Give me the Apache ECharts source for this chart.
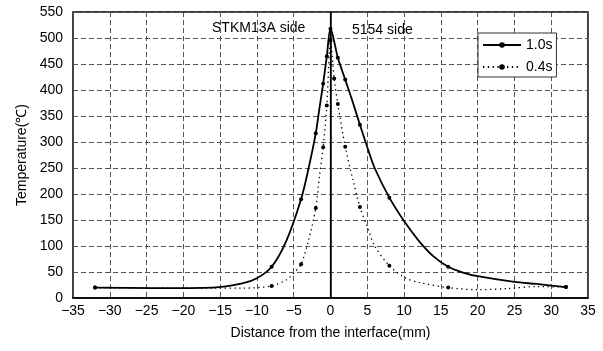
<!DOCTYPE html>
<html><head><meta charset="utf-8">
<script src="https://cdn.jsdelivr.net/npm/echarts@6/dist/echarts.min.js"></script>
<style>html,body{margin:0;padding:0;background:#fff}#c{width:603px;height:351px}</style>
</head><body><div id="c"></div>
<script>
// Distance (mm) and temperature (°C) readings
const xSolid = [-32,-24,-16,-12,-10,-8,-6,-4,-3,-2,-1.5,-1,-0.5,0,1,2,3,4,5,6,8,10,12,14,16,18,20,25,28,32];
const ySolid = [20,19,20,28,38,60,110,190,248,317,365,412,465,518,462,420,378,333,290,250,193,148,110,80,60,49,42,31,27,21];
const markSolid = [-32,-8,-4,-2,-1,-0.5,0,1,2,4,8,16,32];

const xDot = [-32,-24,-16,-12,-8,-6,-5,-4,-3,-2,-1.5,-1,-0.5,0,0.5,1,2,3,4,5,6,8,10,12,16,20,24,28,32];
const yDot = [20,19,19,19,23,35,48,65,110,173,235,290,370,495,422,373,291,230,175,137,100,62,40,30,20,16,18,22,21];
const markDot = [-32,-8,-4,-2,-1,-0.5,0,0.5,1,2,4,8,16,32];

const seriesNames = ['1.0s','0.4s'];
const xTicks = {min:-35,max:35,interval:5};
const yTicks = {min:0,max:550,interval:50};
const xTitle = 'Distance from the interface(mm)';
const yTitle = 'Temperature(℃)';
const notes = ['STKM13A side','5154 side'];

const FONT = 'Liberation Sans';
const chart = echarts.init(document.getElementById('c'));
const pair = (xs, ys) => xs.map((x,i)=>[x, ys[i]]);
const symFn = marks => (v) => marks.includes(v[0]) ? 4 : 0;
const fmt = v => String(v).replace('-', '\u2212');

chart.setOption({
  animation:false,
  textStyle:{fontFamily:FONT},
  grid:{left:73,right:15,top:12,bottom:53,show:true,borderColor:'#000',borderWidth:1.5},
  legend:{
    orient:'vertical', left:478, top:33, padding:[5,4,3,4], itemGap:8,
    borderColor:'#333', borderWidth:1, backgroundColor:'#fff',
    itemWidth:38, itemHeight:7,
    textStyle:{fontFamily:FONT,fontSize:14,color:'#000'},
    data:seriesNames
  },
  xAxis:{type:'value',min:xTicks.min,max:xTicks.max,interval:xTicks.interval,
    name:xTitle,nameLocation:'middle',nameGap:28,
    nameTextStyle:{fontFamily:FONT,fontSize:14,color:'#000'},
    axisLine:{show:true,onZero:false,lineStyle:{color:'#000',width:1.5}},
    axisTick:{show:false},
    axisLabel:{fontFamily:FONT,fontSize:14,color:'#000',margin:6,formatter:fmt},
    splitLine:{show:true,lineStyle:{color:'#555',type:[5,3],width:1}}},
  yAxis:{type:'value',min:yTicks.min,max:yTicks.max,interval:yTicks.interval,
    name:yTitle,nameLocation:'middle',nameGap:38,
    nameTextStyle:{fontFamily:FONT,fontSize:14,color:'#000'},
    axisLine:{show:true,lineStyle:{color:'#000',width:1.5}},
    axisTick:{show:false},
    axisLabel:{fontFamily:FONT,fontSize:14,color:'#000',margin:10},
    splitLine:{show:true,lineStyle:{color:'#555',type:[5,3],width:1}}},
  graphic:[
    {type:'text',left:212,top:21,style:{text:notes[0],font:'14px "Liberation Sans"',fill:'#000'}},
    {type:'text',left:352,top:23,style:{text:notes[1],font:'14px "Liberation Sans"',fill:'#000'}}
  ],
  series:[
    {name:seriesNames[0],type:'line',data:pair(xSolid,ySolid),smooth:0.3,
      symbol:'circle',symbolSize:symFn(markSolid),showSymbol:true,
      lineStyle:{color:'#000',width:1.8},itemStyle:{color:'#000'},
      markLine:{silent:true,symbol:'none',label:{show:false},
        lineStyle:{color:'#000',type:'solid',width:1.2},data:[{xAxis:0}]}},
    {name:seriesNames[1],type:'line',data:pair(xDot,yDot),smooth:0.3,
      symbol:'circle',symbolSize:symFn(markDot),showSymbol:true,
      lineStyle:{color:'#000',width:1.3,type:[1.3,3.5]},itemStyle:{color:'#000'}}
  ]
});
</script></body></html>
